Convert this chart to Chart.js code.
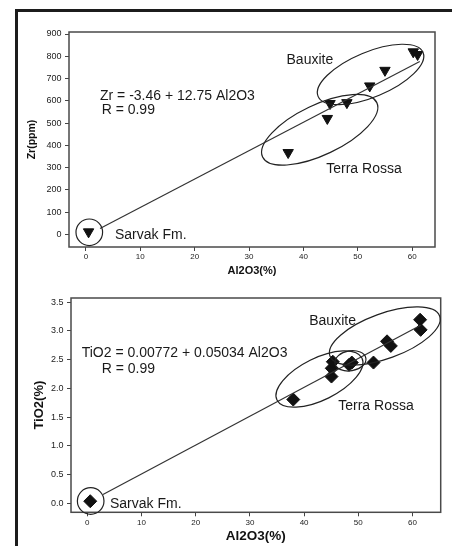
<!DOCTYPE html>
<html><head><meta charset="utf-8">
<script src="https://cdn.jsdelivr.net/npm/chart.js@4.4.0/dist/chart.umd.min.js"></script>
<style>
html,body{margin:0;padding:0;background:#fff;}
body{width:452px;height:546px;position:relative;overflow:hidden;}
#frame{position:absolute;left:15px;top:9px;width:445px;height:545px;border-top:3px solid #1c1c1c;border-left:3px solid #1c1c1c;}
#c1{position:absolute;left:0;top:0;}
#c2{position:absolute;left:0;top:280px;}
</style></head><body>
<div id="frame"></div>
<canvas id="c1" width="452" height="280"></canvas>
<canvas id="c2" width="452" height="266"></canvas>
<script>
// ---- data ----
const xTickValues = [0, 10, 20, 30, 40, 50, 60];
const zrTickValues = [0, 100, 200, 300, 400, 500, 600, 700, 800, 900];
const tiTickValues = [0, 0.5, 1.0, 1.5, 2.0, 2.5, 3.0, 3.5];

// Zr (ppm) vs Al2O3 (%)
const zrAl2O3 = [0.5, 37.2, 44.4, 44.9, 48.0, 52.2, 55.0, 60.2, 61.0];
const zrPpm   = [12, 368, 521, 588, 592, 667, 737, 820, 808];
const zrFitAl2O3 = [2.6, 61.4];
const zrFitZr    = [27, 777];

// TiO2 (%) vs Al2O3 (%)
const tiAl2O3 = [0.55, 38.0, 45.05, 45.1, 45.3, 48.3, 48.8, 52.8, 55.3, 56.0, 61.4, 61.5];
const tiO2    = [0.033, 1.805, 2.206, 2.35, 2.464, 2.41, 2.45, 2.45, 2.82, 2.74, 3.196, 3.02];
const tiFitAl2O3 = [2.9, 61.5];
const tiFitTiO2  = [0.15, 3.10];

const FONT = "'Liberation Sans', Arial, sans-serif";

// annotation shapes (data-space anchors)
const zrNotes = {
  ellipses: [
    {x1: 42.7, y1: 620, x2: 62.0, y2: 817, minor: 22.5},
    {x1: 32.5, y1: 348, x2: 53.5, y2: 592, minor: 25}
  ],
  circles: [{x: 0.63, y: 10, r: 13.3}],
  texts: [
    {x: 2.6, y: 606, t: 'Zr = -3.46 + 12.75 Al2O3'},
    {x: 2.9, y: 541, t: 'R = 0.99'},
    {x: 36.9, y: 765, t: 'Bauxite'},
    {x: 44.2, y: 274, t: 'Terra Rossa'},
    {x: 5.35, y: -20, t: 'Sarvak Fm.'}
  ]
};
const tiNotes = {
  ellipses: [
    {x1: 44.77, y1: 2.564, x2: 65.0, y2: 3.26, minor: 22.5},
    {x1: 35.0, y1: 1.797, x2: 50.67, y2: 2.529, minor: 21},
    {x1: 45.7, y1: 2.436, x2: 51.4, y2: 2.524, minor: 10}
  ],
  circles: [{x: 0.63, y: 0.037, r: 13.3}],
  texts: [
    {x: -1.03, y: 2.546, t: 'TiO2 = 0.00772 + 0.05034 Al2O3'},
    {x: 2.66, y: 2.276, t: 'R = 0.99'},
    {x: 40.95, y: 3.104, t: 'Bauxite'},
    {x: 46.3, y: 1.631, t: 'Terra Rossa'},
    {x: 4.19, y: -0.077, t: 'Sarvak Fm.'}
  ]
};

function pts(xs, ys) { return xs.map((x, i) => ({x: x, y: ys[i]})); }

function annotPlugin(notes) {
  return {
    id: 'annot',
    afterDatasetsDraw(chart) {
      const ctx = chart.ctx, a = chart.chartArea;
      const xs = chart.scales.x, ys = chart.scales.y;
      ctx.save();
      ctx.strokeStyle = '#4a4a4a';
      ctx.lineWidth = 1.5;
      ctx.strokeRect(a.left, a.top, a.right - a.left, a.bottom - a.top);
      ctx.strokeStyle = '#222';
      ctx.lineWidth = 1.2;
      notes.ellipses.forEach(e => {
        const p1x = xs.getPixelForValue(e.x1), p1y = ys.getPixelForValue(e.y1);
        const p2x = xs.getPixelForValue(e.x2), p2y = ys.getPixelForValue(e.y2);
        const cx = (p1x + p2x) / 2, cy = (p1y + p2y) / 2;
        const maj = Math.hypot(p2x - p1x, p2y - p1y) / 2;
        const ang = Math.atan2(p2y - p1y, p2x - p1x);
        ctx.beginPath();
        ctx.ellipse(cx, cy, maj, e.minor, ang, 0, Math.PI * 2);
        ctx.stroke();
      });
      notes.circles.forEach(c => {
        ctx.beginPath();
        ctx.arc(xs.getPixelForValue(c.x), ys.getPixelForValue(c.y), c.r, 0, Math.PI * 2);
        ctx.stroke();
      });
      ctx.fillStyle = '#1a1a1a';
      ctx.font = '14px ' + FONT;
      ctx.textAlign = 'left';
      ctx.textBaseline = 'alphabetic';
      notes.texts.forEach(t => {
        ctx.fillText(t.t, xs.getPixelForValue(t.x), ys.getPixelForValue(t.y));
      });
      ctx.restore();
    }
  };
}

function makeChart(id, cfg) {
  return new Chart(document.getElementById(id), {
    type: 'scatter',
    data: {
      datasets: [
        {type: 'line', data: pts(cfg.fitX, cfg.fitY), borderColor: '#333', borderWidth: 1.2,
         pointRadius: 0, fill: false, tension: 0},
        {data: pts(cfg.px, cfg.py), pointStyle: cfg.style, rotation: cfg.rotation,
         pointRadius: cfg.radius, pointHoverRadius: cfg.radius,
         backgroundColor: '#111', borderColor: '#111', borderWidth: 1}
      ]
    },
    options: {
      responsive: false,
      animation: false,
      events: [],
      layout: {padding: cfg.padding},
      plugins: {legend: {display: false}, tooltip: {enabled: false}},
      scales: {
        x: {
          type: 'linear', min: cfg.xmin, max: cfg.xmax,
          afterBuildTicks: s => { s.ticks = xTickValues.map(v => ({value: v})); },
          afterFit: s => { s.height = cfg.xh; },
          grid: {drawOnChartArea: false, drawTicks: true, tickLength: 4, color: '#444'},
          border: {display: false},
          ticks: {padding: cfg.xtpad, color: '#222', font: {family: FONT, size: 8}, maxRotation: 0, autoSkip: false},
          title: {display: true, text: 'Al2O3(%)', color: '#111',
                  font: {family: FONT, size: cfg.xtsize, weight: 'bold'}, padding: {top: 0, bottom: cfg.xtitlepad}}
        },
        y: {
          type: 'linear', min: cfg.ymin, max: cfg.ymax,
          afterBuildTicks: s => { s.ticks = cfg.yticks.map(v => ({value: v})); },
          afterFit: s => { s.width = cfg.yw; },
          grid: {drawOnChartArea: false, drawTicks: true, tickLength: 4, color: '#444'},
          border: {display: false},
          ticks: {padding: 3.5, color: '#222', font: {family: FONT, size: 9}, autoSkip: false,
                  callback: cfg.yfmt},
          title: {display: true, text: cfg.ytitle, color: '#111',
                  font: {family: FONT, size: cfg.ytsize, weight: 'bold'}, padding: {top: cfg.ytitlepad, bottom: 0}}
        }
      }
    },
    plugins: [annotPlugin(cfg.notes)]
  });
}

makeChart('c1', {
  fitX: zrFitAl2O3, fitY: zrFitZr, px: zrAl2O3, py: zrPpm,
  style: 'triangle', rotation: 180, radius: 6,
  padding: {left: 20, right: 17, top: 32, bottom: 0},
  xmin: -3.1, xmax: 64.2, ymin: -56, ymax: 909,
  xh: 33, yw: 49, xtpad: 1, xtsize: 11, xtitlepad: 2.4,
  yticks: zrTickValues, yfmt: v => String(v),
  ytitle: 'Zr(ppm)', ytsize: 10.5, ytitlepad: 6.2,
  notes: zrNotes
});

makeChart('c2', {
  fitX: tiFitAl2O3, fitY: tiFitTiO2, px: tiAl2O3, py: tiO2,
  style: 'rectRot', rotation: 0, radius: 6.5,
  padding: {left: 20, right: 11.3, top: 18, bottom: 0},
  xmin: -3.0, xmax: 65.2, ymin: -0.16, ymax: 3.575,
  xh: 33.7, yw: 51, xtpad: 1.5, xtsize: 13.5, xtitlepad: 1.2,
  yticks: tiTickValues, yfmt: v => Number(v).toFixed(1),
  ytitle: 'TiO2(%)', ytsize: 13, ytitlepad: 11.2,
  notes: tiNotes
});
</script>
</body></html>
